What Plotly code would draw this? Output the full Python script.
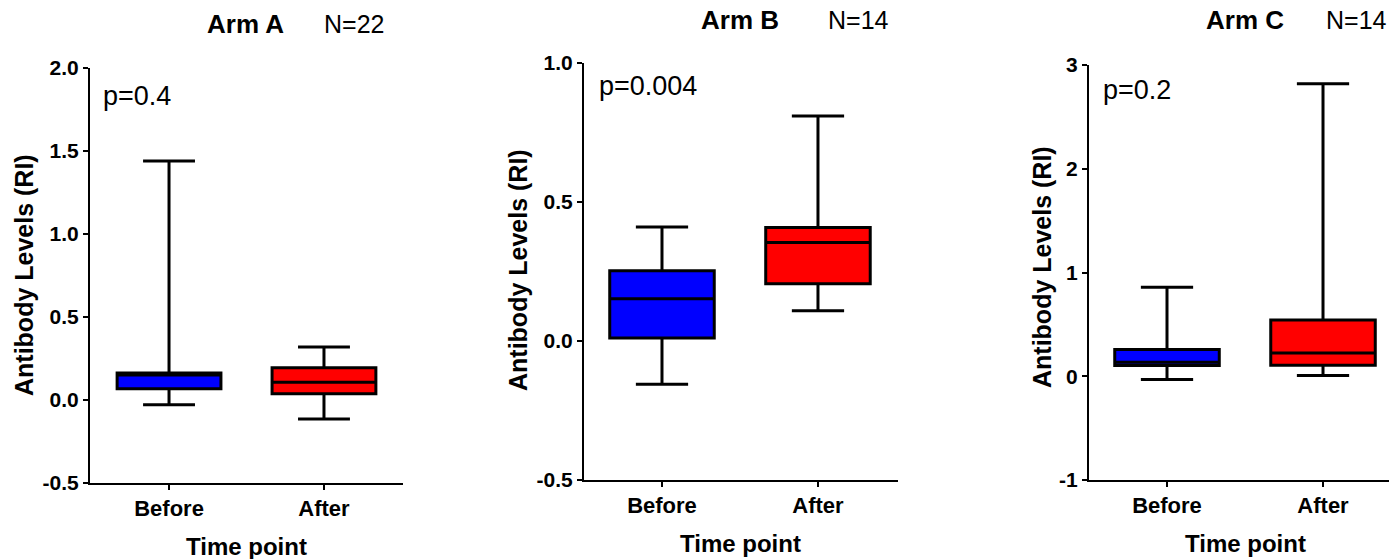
import plotly.graph_objects as go

# ---- data -------------------------------------------------------------
groups = ["Before", "After"]
box_colors = ["#0000FF", "#FF0000"]

arm_names = ["Arm A", "Arm B", "Arm C"]
arm_counts = ["N=22", "N=14", "N=14"]
p_values = ["p=0.4", "p=0.004", "p=0.2"]

# five-number summaries, one entry per time point [Before, After]
arm_a_min = [-0.028, -0.114]
arm_a_q1 = [0.068, 0.038]
arm_a_median = [0.150, 0.107]
arm_a_q3 = [0.163, 0.195]
arm_a_max = [1.44, 0.32]

arm_b_min = [-0.156, 0.109]
arm_b_q1 = [0.011, 0.206]
arm_b_median = [0.152, 0.354]
arm_b_q3 = [0.253, 0.408]
arm_b_max = [0.41, 0.809]

arm_c_min = [-0.032, 0.007]
arm_c_q1 = [0.103, 0.106]
arm_c_median = [0.135, 0.225]
arm_c_q3 = [0.257, 0.543]
arm_c_max = [0.857, 2.82]

# y tick values and labels per arm
arm_a_ticks = [-0.5, 0.0, 0.5, 1.0, 1.5, 2.0]
arm_a_ticktext = ["-0.5", "0.0", "0.5", "1.0", "1.5", "2.0"]
arm_b_ticks = [-0.5, 0.0, 0.5, 1.0]
arm_b_ticktext = ["-0.5", "0.0", "0.5", "1.0"]
arm_c_ticks = [-1, 0, 1, 2, 3]
arm_c_ticktext = ["-1", "0", "1", "2", "3"]

# ---- layout geometry (page is 1389 x 559) --------------------------------
W, H = 1389, 559
FONT = "Arial, Liberation Sans, sans-serif"

panels = [
    dict(summary=(arm_a_min, arm_a_q1, arm_a_median, arm_a_q3, arm_a_max),
         ticks=arm_a_ticks, ticktext=arm_a_ticktext, yrange=[-0.5, 2.0],
         xpx=(90, 403), ypx=(68, 483), xrange=[-0.51, 1.51],
         title_x=246, title_y=24, n_x=322, n_y=24, p_x=101, p_y=96,
         ytitle_x=24, ytitle_y=275, xtitle_y=546),
    dict(summary=(arm_b_min, arm_b_q1, arm_b_median, arm_b_q3, arm_b_max),
         ticks=arm_b_ticks, ticktext=arm_b_ticktext, yrange=[-0.5, 1.0],
         xpx=(584, 898), ypx=(63, 480), xrange=[-0.5, 1.513],
         title_x=740, title_y=20, n_x=826, n_y=20, p_x=597, p_y=86,
         ytitle_x=518, ytitle_y=270, xtitle_y=543),
    dict(summary=(arm_c_min, arm_c_q1, arm_c_median, arm_c_q3, arm_c_max),
         ticks=arm_c_ticks, ticktext=arm_c_ticktext, yrange=[-1, 3],
         xpx=(1089, 1389), ypx=(65, 480), xrange=[-0.5, 1.423],
         title_x=1245, title_y=20, n_x=1329, n_y=20, p_x=1101, p_y=90,
         ytitle_x=1042, ytitle_y=267, xtitle_y=543),
]

fig = go.Figure()
annotations = []
layout_axes = {}

for i, pan in enumerate(panels):
    k = "" if i == 0 else str(i + 1)
    xa, ya = "x" + k, "y" + k
    lo, q1, med, q3, hi = pan["summary"]
    for j, g in enumerate(groups):
        fig.add_trace(go.Box(
            x=[g], q1=[q1[j]], median=[med[j]], q3=[q3[j]],
            lowerfence=[lo[j]], upperfence=[hi[j]],
            fillcolor=box_colors[j], line=dict(color="black", width=3),
            width=0.67, whiskerwidth=0.5, boxpoints=False,
            showlegend=False, hoverinfo="skip",
            xaxis=xa, yaxis=ya,
        ))

    x0, x1 = pan["xpx"]
    ytop, ybot = pan["ypx"]
    layout_axes["xaxis" + k] = dict(
        domain=[x0 / W, min(x1 / W, 1.0)], anchor=ya, automargin=False,
        type="category", categoryorder="array", categoryarray=groups,
        range=pan["xrange"], showline=True, linecolor="black", linewidth=2,
        ticks="outside", ticklen=5, tickwidth=2, tickcolor="black",
        showgrid=False, zeroline=False,
        tickfont=dict(family=FONT, size=22, color="black", weight="bold"),
    )
    layout_axes["yaxis" + k] = dict(
        domain=[1 - ybot / H, 1 - ytop / H], anchor=xa, automargin=False,
        range=pan["yrange"], tickvals=pan["ticks"], ticktext=pan["ticktext"],
        showline=True, linecolor="black", linewidth=2,
        ticks="outside", ticklen=5, tickwidth=2, tickcolor="black",
        showgrid=False, zeroline=False,
        tickfont=dict(family=FONT, size=21, color="black", weight="bold"),
    )

    xc = (x0 + (x0 + 313)) / 2
    n_note = dict(text=arm_counts[i], y=1 - pan["n_y"] / H, yanchor="middle",
                  font=dict(family=FONT, size=25, color="black"))
    if pan["n_x"] + 62 > W:
        n_note.update(x=1.0, xanchor="right")
    else:
        n_note.update(x=pan["n_x"] / W, xanchor="left")
    annotations += [
        dict(text="<b>" + arm_names[i] + "</b>", x=pan["title_x"] / W, y=1 - pan["title_y"] / H,
             xanchor="center", yanchor="middle", font=dict(family=FONT, size=26, color="black")),
        n_note,
        dict(text=p_values[i], x=pan["p_x"] / W, y=1 - pan["p_y"] / H,
             xanchor="left", yanchor="middle", font=dict(family=FONT, size=27, color="black")),
        dict(text="<b>Antibody Levels (RI)</b>", x=pan["ytitle_x"] / W, y=1 - pan["ytitle_y"] / H,
             xanchor="center", yanchor="middle", textangle=-90,
             font=dict(family=FONT, size=25, color="black")),
        dict(text="<b>Time point</b>", x=xc / W, y=1 - pan["xtitle_y"] / H,
             xanchor="center", yanchor="middle", font=dict(family=FONT, size=24, color="black")),
    ]

for a in annotations:
    a.update(xref="paper", yref="paper", showarrow=False)

fig.update_layout(
    template="none",
    width=W, height=H,
    margin=dict(l=0, r=0, t=0, b=0, autoexpand=False),
    paper_bgcolor="white", plot_bgcolor="white",
    boxmode="overlay",
    annotations=annotations,
    **layout_axes,
)

fig.write_html("out.html", config={"displayModeBar": False})
